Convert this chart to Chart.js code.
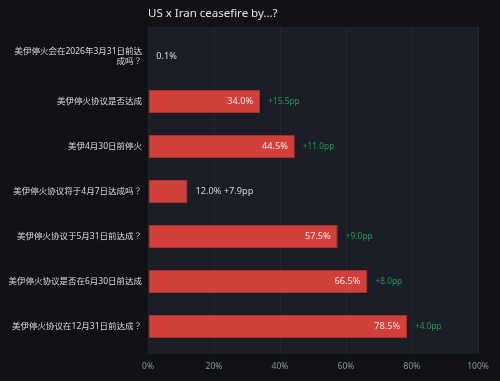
<!DOCTYPE html>
<html><head><meta charset="utf-8">
<script src="https://cdn.jsdelivr.net/npm/chart.js@4.4.1/dist/chart.umd.min.js"></script>
<style>html,body{margin:0;padding:0;background:#111216;}#wrap{width:500px;height:381px;}</style>
</head><body><div id="wrap"><canvas id="c" width="500" height="381"></canvas></div>
<script>
const titleText = 'US x Iran ceasefire by...?';
const categories = [
  ['美伊停火会在2026年3月31日前达', '成吗？'],
  '美伊停火协议是否达成',
  '美伊4月30日前停火',
  '美伊停火协议将于4月7日达成吗？',
  '美伊停火协议于5月31日前达成？',
  '美伊停火协议是否在6月30日前达成',
  '美伊停火协议在12月31日前达成？'
];
const values = [0.1, 34.0, 44.5, 12.0, 57.5, 66.5, 78.5];
const deltas = [null, 15.5, 11.0, 7.9, 9.0, 8.0, 4.0];
const xTicks = [0, 20, 40, 60, 80, 100];

const FONT = '"Noto Sans", "Noto Sans CJK JP", sans-serif';

const deco = {
  id: 'deco',
  beforeDatasetsDraw(chart) {
    const {ctx, chartArea: a, scales: {x}} = chart;
    const top = a.top - 7, bottom = a.bottom + 5;
    ctx.save();
    ctx.fillStyle = '#1b1d27';
    ctx.fillRect(a.left, top, a.right - a.left, bottom - top);
    ctx.strokeStyle = '#222532';
    ctx.lineWidth = 1;
    xTicks.forEach(v => {
      const px = Math.round(x.getPixelForValue(v)) + 0.5;
      ctx.beginPath(); ctx.moveTo(px, top); ctx.lineTo(px, bottom); ctx.stroke();
    });
    ctx.restore();
  },
  afterDatasetsDraw(chart) {
    const {ctx, chartArea: a} = chart;
    const meta = chart.getDatasetMeta(0);
    ctx.save();
    ctx.textBaseline = 'middle';
    meta.data.forEach((bar, i) => {
      const v = values[i], d = deltas[i];
      const w = bar.x - bar.base;
      const label = v.toFixed(1) + '%';
      const dtxt = d == null ? null : '+' + d.toFixed(1) + 'pp';
      if (w >= 60) {
        ctx.font = '9.2px ' + FONT;
        ctx.fillStyle = '#f3e6e4';
        ctx.textAlign = 'right';
        ctx.fillText(label, bar.x - 7, bar.y);
        if (dtxt) {
          ctx.font = '8.3px ' + FONT;
          ctx.fillStyle = '#1e9e57';
          ctx.textAlign = 'left';
          ctx.fillText(dtxt, bar.x + 8, bar.y);
        }
      } else {
        ctx.font = '9.2px ' + FONT;
        ctx.fillStyle = '#d6d6d8';
        ctx.textAlign = 'left';
        ctx.fillText(dtxt ? label + ' ' + dtxt : label, bar.x + 8, bar.y);
      }
    });
    ctx.font = '11.5px ' + FONT;
    ctx.fillStyle = '#e6e6e8';
    ctx.textAlign = 'left';
    ctx.fillText(titleText, a.left, 14);
    ctx.restore();
  }
};

new Chart(document.getElementById('c'), {
  type: 'bar',
  data: {
    labels: categories,
    datasets: [{
      data: values,
      backgroundColor: '#d1403a',
      borderColor: '#a82f29',
      borderWidth: 1,
      borderSkipped: false,
      barPercentage: 0.51,
      categoryPercentage: 1
    }]
  },
  options: {
    indexAxis: 'y',
    responsive: false,
    animation: false,
    devicePixelRatio: 1,
    layout: {padding: {top: 34, right: 22, bottom: 10, left: 0}},
    plugins: {legend: {display: false}, tooltip: {enabled: false}, title: {display: false}},
    scales: {
      x: {
        min: 0, max: 100,
        afterBuildTicks(s) { s.ticks = xTicks.map(v => ({value: v})); },
        afterFit(s) { s.height = 22; },
        ticks: {color: '#8d919c', font: {size: 8.5, family: FONT}, padding: 2,
          callback: v => v + '%'},
        grid: {display: true, color: 'rgba(0,0,0,0)', drawOnChartArea: false, drawTicks: true, tickLength: 10, tickColor: 'rgba(0,0,0,0)'},
        border: {display: false}
      },
      y: {
        afterFit(s) { s.width = 148; },
        ticks: {color: '#dcdcde', font: {size: 8.5, family: FONT, lineHeight: 1.2}, padding: 6},
        grid: {display: false, drawTicks: false},
        border: {display: false}
      }
    }
  },
  plugins: [deco]
});
</script>
</body></html>
